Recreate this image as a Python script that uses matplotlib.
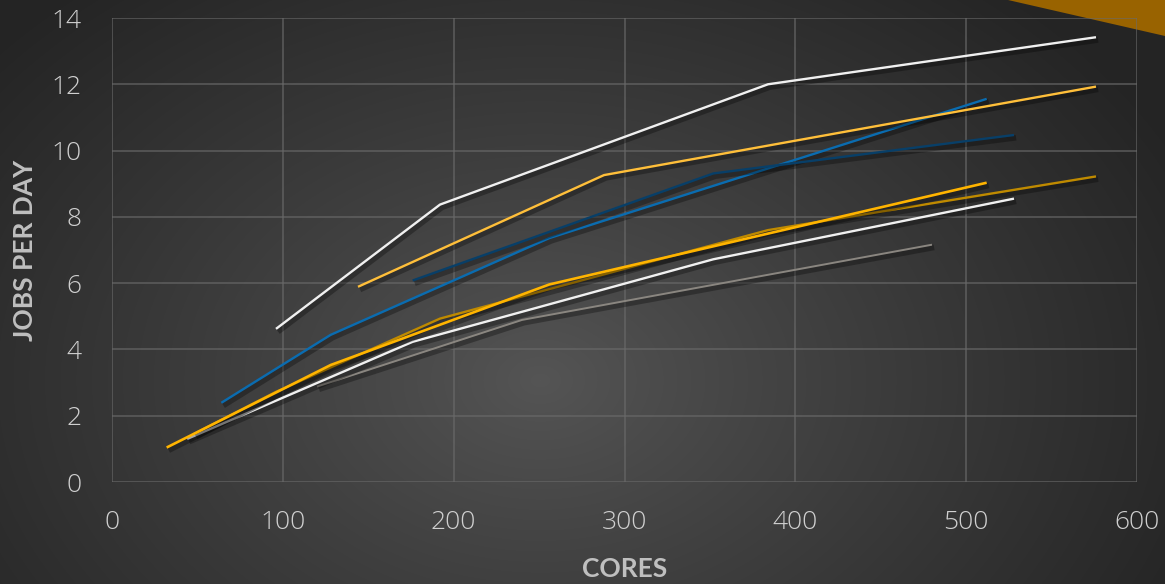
import numpy as np
import matplotlib
matplotlib.use("Agg")
import matplotlib.pyplot as plt
import matplotlib.patheffects as pe
from matplotlib.patches import Polygon

# ---- data ----
x_ticks = [0, 100, 200, 300, 400, 500, 600]
y_ticks = [0, 2, 4, 6, 8, 10, 12, 14]

white_top_x = [96, 192, 384, 576]
white_top_y = [4.62, 8.37, 12.0, 13.42]

yellow_light_x = [144, 288, 576]
yellow_light_y = [5.89, 9.26, 11.93]

navy_x = [176, 352, 528]
navy_y = [6.08, 9.31, 10.47]

blue_x = [64, 128, 256, 512]
blue_y = [2.39, 4.44, 7.36, 11.56]

yellow_x = [32, 128, 256, 512]
yellow_y = [1.04, 3.53, 5.96, 9.03]

gold_x = [48, 96, 192, 384, 576]
gold_y = [1.45, 2.72, 4.93, 7.60, 9.22]

white_low_x = [44, 176, 352, 528]
white_low_y = [1.30, 4.23, 6.72, 8.55]

gray_x = [120, 240, 480]
gray_y = [2.88, 4.89, 7.16]

W, H = 1165, 584
fig = plt.figure(figsize=(W / 100, H / 100), dpi=100)

# background radial gradient
bg = fig.add_axes([0, 0, 1, 1])
yy, xx = np.mgrid[0:H, 0:W]
cx, cy = 540, 380
r = np.sqrt(((xx - cx) / 720.0) ** 2 + ((yy - cy) / 520.0) ** 2)
r = np.clip(r, 0, 1)
c_in = np.array([0x55, 0x55, 0x55]) / 255.0
c_out = np.array([0x24, 0x24, 0x24]) / 255.0
img = c_in[None, None, :] + (c_out - c_in)[None, None, :] * r[:, :, None] ** 0.9
bg.imshow(img, extent=[0, W, H, 0], aspect="auto")
bg.set_xlim(0, W)
bg.set_ylim(H, 0)
bg.axis("off")
bg.add_patch(Polygon([[1008, 0], [W, 0], [W, 36]], closed=True,
                     facecolor="#996300", edgecolor="none"))

ax = fig.add_axes([112 / W, 1 - 482 / H, (1137 - 112) / W, (482 - 18) / H])
ax.set_facecolor("none")
ax.set_xlim(0, 600)
ax.set_ylim(0, 14)
ax.set_xticks(x_ticks)
ax.set_yticks(y_ticks)
ax.grid(True, color="#6a6a6a", linewidth=1.2, alpha=0.7)
ax.set_axisbelow(True)
for s in ["top", "right", "bottom", "left"]:
    ax.spines[s].set_visible(False)
ax.tick_params(axis="y", length=0, labelsize=19, labelcolor="#d0d0d0", pad=22)
ax.tick_params(axis="x", length=0, labelsize=19, labelcolor="#d0d0d0", pad=20)
for lab in ax.get_xticklabels() + ax.get_yticklabels():
    lab.set_fontfamily("Open Sans")
    lab.set_fontweight("light")

shadow = [pe.SimpleLineShadow(offset=(1.5, -2), shadow_color="black", alpha=0.3, linewidth=4), pe.Normal()]

series = [
    (gray_x, gray_y, "#8a8680", 1.4),
    (white_low_x, white_low_y, "#f0f0f0", 1.7),
    (gold_x, gold_y, "#bf8a00", 1.7),
    (yellow_x, yellow_y, "#ffb400", 1.9),
    (blue_x, blue_y, "#0a6cb0", 1.7),
    (navy_x, navy_y, "#083f68", 1.7),
    (yellow_light_x, yellow_light_y, "#ffbf3a", 1.7),
    (white_top_x, white_top_y, "#f0f0f0", 1.7),
]
for xs, ys, col, lw in series:
    ax.plot(xs, ys, color=col, linewidth=lw, solid_capstyle="butt",
            path_effects=shadow, zorder=3)

fig.text(25 / W, 1 - 250 / H, "JOBS PER DAY", rotation=90, ha="center", va="center",
         fontsize=19, fontweight="bold", color="#bfbfbf", family="Lato")
fig.text(625 / W, 1 - 569 / H, "CORES", ha="center", va="center",
         fontsize=19, fontweight="bold", color="#bfbfbf", family="Lato")

fig.savefig("out.png", dpi=100)
